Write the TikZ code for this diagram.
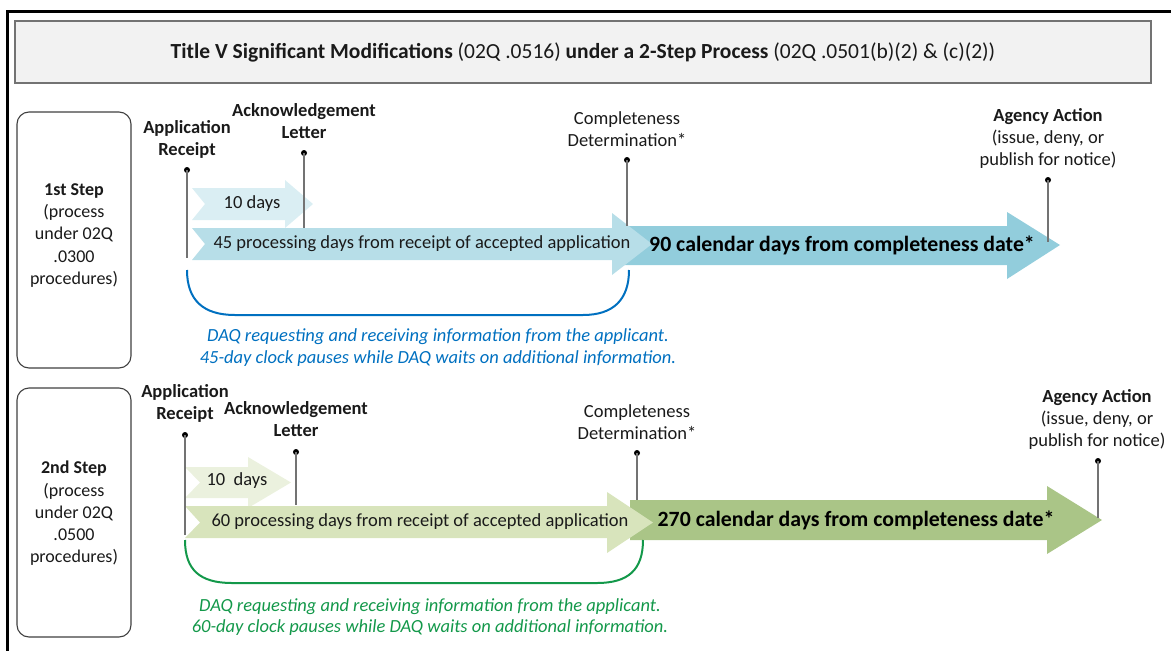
\documentclass[tikz,border=0pt]{standalone}
\usepackage{fontspec}
\setmainfont{Carlito}
\definecolor{bA}{HTML}{DAEEF3}
\definecolor{bB}{HTML}{B7DEE8}
\definecolor{bC}{HTML}{92CDDC}
\definecolor{gA}{HTML}{EBF1DE}
\definecolor{gB}{HTML}{D8E4BC}
\definecolor{gC}{HTML}{AAC587}
\definecolor{brBlue}{HTML}{0070C0}
\definecolor{brGreen}{HTML}{13984A}
\definecolor{txt}{HTML}{1A1A1A}
\begin{document}
\begin{tikzpicture}[x=1pt,y=-1pt,
  lbl/.style={align=center,inner sep=0pt,text=txt,font=\fontsize{18.5}{22}\selectfont},
  boldlbl/.style={lbl,font=\fontsize{18.5}{22}\selectfont\bfseries},
  steptext/.style={align=center,inner sep=0pt,text=txt,font=\fontsize{18}{22.2}\selectfont},
  inarrow/.style={inner sep=0pt,text=txt,font=\fontsize{18.5}{22}\selectfont},
  bigarrow/.style={inner sep=0pt,text=black,font=\fontsize{21.8}{25}\selectfont\bfseries},
  stepbox/.style={draw=black!75,line width=1.1pt,rounded corners=12pt,fill=white},
  marker/.style={draw=black!55,line width=1.2pt},
  dotmark/.style={circle,fill=black,inner sep=0pt,minimum size=6pt},
  bracket/.style={line width=2pt},
  note/.style={align=center,inner sep=0pt,font=\fontsize{18.5}{21.5}\selectfont\itshape}
]
\useasboundingbox (0,0) rectangle (1171,651);
% outer frame
\draw[line width=3pt] (7,651) -- (7,11) -- (1171,11);
% title
\node[draw=black!55,line width=1.3pt,fill=black!5,minimum width=1136pt,minimum height=62pt,inner sep=0pt,font=\fontsize{21.5}{24}\selectfont,text=txt] (title) at (583,52)
  {\textbf{Title V Significant Modifications} (02Q .0516) \textbf{under a 2-Step Process} (02Q .0501(b)(2) \& (c)(2))};
% step boxes
\node[stepbox,minimum width=114pt,minimum height=256pt] (s1) at (74,240) {};
\node[steptext] (s1t) at (74,235.5) {\textbf{1st Step}\\(process\\under 02Q\\.0300\\procedures)};
\node[stepbox,minimum width=114pt,minimum height=249pt] (s2) at (74,512.5) {};
\node[steptext] (s2t) at (74,513.5) {\textbf{2nd Step}\\(process\\under 02Q\\.0500\\procedures)};

%%%%% ROW 1
\fill[bC] (615,226) -- (1007,226) -- (1007,212) -- (1060,245) -- (1007,279) -- (1007,265) -- (615,265) -- cycle;
\fill[bA] (192,188) -- (285,188) -- (285,180) -- (313,204) -- (285,228) -- (285,220) -- (192,220) -- (205,204) -- cycle;
\fill[bB] (192,228) -- (612,228) -- (612,213) -- (652,244) -- (612,275) -- (612,260) -- (192,260) -- (205,244) -- cycle;
\node[inarrow] (d10a) at (252,204) {10 days};
\node[inarrow] (d45) at (422,244) {45 processing days from receipt of accepted application};
\node[bigarrow] (d90) at (842,245) {90 calendar days from completeness date*};

\node[boldlbl] (app1) at (187,139) {Application\\Receipt};
\node[boldlbl] (ack1) at (304,121) {Acknowledgement\\Letter};
\node[lbl] (comp1) at (627,129) {Completeness\\Determination*};
\node[lbl] (ag1) at (1048,138) {\textbf{Agency Action}\\(issue, deny, or\\publish for notice)};
\node[dotmark] (app1d) at (187,170) {};
\node[dotmark] (ack1d) at (304,153) {};
\node[dotmark] (comp1d) at (627,160) {};
\node[dotmark] (ag1d) at (1048,180) {};
\coordinate (app1e) at (187,258);
\coordinate (ack1e) at (304,228);
\coordinate (comp1e) at (627,226);
\coordinate (ag1e) at (1048,242);
\draw[marker] (app1d.center) -- (app1e);
\draw[marker] (ack1d.center) -- (ack1e);
\draw[marker] (comp1d.center) -- (comp1e);
\draw[marker] (ag1d.center) -- (ag1e);

\coordinate (br1a) at (187,270);
\coordinate (br1b) at (629,270);
\draw[bracket,brBlue] (br1a) .. controls (187,300) and (203,315) .. (235,315) -- (583,315) .. controls (613,315) and (629,300) .. (br1b);
\node[note,text=brBlue] (n1) at (438,347.5) {DAQ requesting and receiving information from the applicant.\\45-day clock pauses while DAQ waits on additional information.};

%%%%% ROW 2
\fill[gC] (630,500) -- (1047,500) -- (1047,486) -- (1102,520) -- (1047,554) -- (1047,540) -- (630,540) -- cycle;
\fill[gA] (185,467) -- (248,467) -- (248,457) -- (291,482.5) -- (248,508) -- (248,498) -- (185,498) -- (200,482.5) -- cycle;
\fill[gB] (185,506) -- (607,506) -- (607,492) -- (653,522.5) -- (607,553) -- (607,538) -- (185,538) -- (200,522.5) -- cycle;
\node[inarrow] (d10b) at (237,481) {10\ \ days};
\node[inarrow] (d60) at (420,522) {60 processing days from receipt of accepted application};
\node[bigarrow] (d270) at (856,520) {270 calendar days from completeness date*};

\node[boldlbl] (app2) at (185,403.5) {Application\\Receipt};
\node[boldlbl] (ack2) at (296,419) {Acknowledgement\\Letter};
\node[lbl] (comp2) at (637,422) {Completeness\\Determination*};
\node[lbl] (ag2) at (1097,419) {\textbf{Agency Action}\\(issue, deny, or\\publish for notice)};
\node[dotmark] (app2d) at (185,435) {};
\node[dotmark] (ack2d) at (296,452) {};
\node[dotmark] (comp2d) at (637,453) {};
\node[dotmark] (ag2d) at (1098,461) {};
\coordinate (app2e) at (185,535);
\coordinate (ack2e) at (296,505);
\coordinate (comp2e) at (637,500);
\coordinate (ag2e) at (1098,518);
\draw[marker] (app2d.center) -- (app2e);
\draw[marker] (ack2d.center) -- (ack2e);
\draw[marker] (comp2d.center) -- (comp2e);
\draw[marker] (ag2d.center) -- (ag2e);

\coordinate (br2a) at (185,540);
\coordinate (br2b) at (643,540);
\draw[bracket,brGreen] (br2a) .. controls (185,570) and (200,583) .. (232,583) -- (597,583) .. controls (628,583) and (643,570) .. (br2b);
\node[note,text=brGreen] (n2) at (430,617) {DAQ requesting and receiving information from the applicant.\\60-day clock pauses while DAQ waits on additional information.};
\end{tikzpicture}
\end{document}
